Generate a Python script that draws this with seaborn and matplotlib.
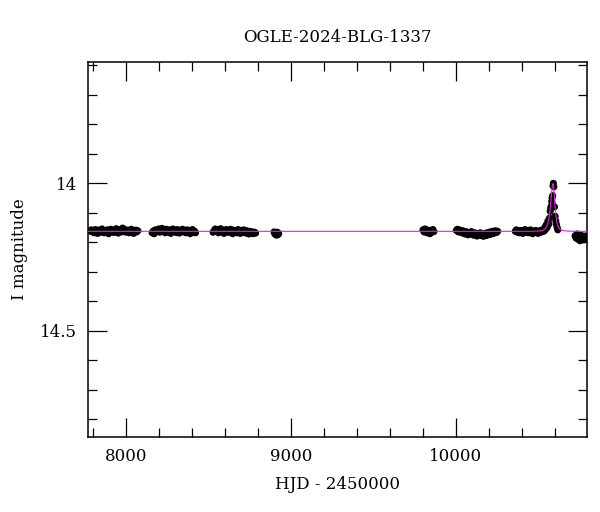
import numpy as np
import pandas as pd
import matplotlib
matplotlib.use("Agg")
import matplotlib.pyplot as plt
from matplotlib.ticker import MultipleLocator
import seaborn as sns

# ------------------------------------------
# Datos (leidos de la curva de luz)
# ------------------------------------------
hjd_s1 = [7782, 7788, 7795, 7801, 7808, 7814, 7821, 7828, 7834, 7841, 7847, 7854, 7861, 7867,
          7874, 7880, 7887, 7894, 7900, 7907, 7913, 7920, 7927, 7933, 7940, 7946, 7953, 7960,
          7966, 7973, 7979, 7986, 7993, 7999, 8006, 8012, 8019, 8026, 8032, 8039, 8045, 8052,
          8059, 8065, 8071]
mag_s1 = [14.162, 14.158, 14.165, 14.160, 14.168, 14.157, 14.163, 14.170, 14.159, 14.161, 14.166,
          14.155, 14.162, 14.168, 14.160, 14.164, 14.158, 14.171, 14.161, 14.156, 14.165, 14.160,
          14.167, 14.162, 14.154, 14.163, 14.169, 14.158, 14.161, 14.165, 14.152, 14.160, 14.157,
          14.166, 14.162, 14.159, 14.168, 14.163, 14.156, 14.161, 14.170, 14.164, 14.159, 14.165,
          14.161]

hjd_s2 = [8158, 8165, 8171, 8178, 8185, 8191, 8198, 8205, 8211, 8218, 8224, 8231, 8238, 8244,
          8251, 8257, 8264, 8271, 8277, 8284, 8290, 8297, 8304, 8310, 8317, 8323, 8330, 8337,
          8343, 8350, 8356, 8363, 8370, 8376, 8383, 8389, 8396, 8403, 8409, 8416, 8421]
mag_s2 = [14.168, 14.162, 14.171, 14.158, 14.164, 14.160, 14.155, 14.166, 14.161, 14.153, 14.163,
          14.159, 14.168, 14.156, 14.162, 14.165, 14.158, 14.170, 14.161, 14.155, 14.164, 14.160,
          14.167, 14.157, 14.162, 14.169, 14.159, 14.163, 14.156, 14.165, 14.161, 14.168, 14.158,
          14.164, 14.160, 14.171, 14.162, 14.157, 14.166, 14.163, 14.168]

hjd_s3 = [8528, 8535, 8541, 8548, 8554, 8561, 8568, 8574, 8581, 8587, 8594, 8601, 8607, 8614,
          8620, 8627, 8634, 8640, 8647, 8653, 8660, 8667, 8673, 8680, 8686, 8693, 8700, 8706,
          8713, 8719, 8726, 8733, 8739, 8746, 8752, 8759, 8766, 8772, 8780, 8786]
mag_s3 = [14.166, 14.160, 14.155, 14.163, 14.158, 14.168, 14.161, 14.154, 14.164, 14.159, 14.170,
          14.162, 14.157, 14.165, 14.160, 14.167, 14.156, 14.163, 14.171, 14.159, 14.164, 14.161,
          14.168, 14.157, 14.163, 14.170, 14.160, 14.166, 14.158, 14.164, 14.169, 14.161, 14.166,
          14.172, 14.163, 14.168, 14.165, 14.171, 14.166, 14.169]

hjd_s4 = [8898, 8903, 8908, 8912, 8917, 8922, 8926]
mag_s4 = [14.165, 14.172, 14.168, 14.176, 14.166, 14.174, 14.170]

hjd_s5 = [9802, 9808, 9814, 9820, 9826, 9832, 9838, 9844, 9850, 9856, 9862, 9868]
mag_s5 = [14.158, 14.165, 14.155, 14.162, 14.168, 14.159, 14.163, 14.171, 14.160, 14.166, 14.157,
          14.164]

hjd_s6 = [10004, 10010, 10017, 10023, 10030, 10037, 10043, 10050, 10056, 10063, 10070, 10076,
          10083, 10089, 10096, 10103, 10109, 10116, 10122, 10129, 10136, 10142, 10149, 10155,
          10162, 10169, 10175, 10182, 10188, 10195, 10202, 10208, 10215, 10221, 10228, 10235,
          10241, 10248, 10255]
mag_s6 = [14.160, 14.156, 14.165, 14.158, 14.163, 14.168, 14.161, 14.166, 14.172, 14.164, 14.169,
          14.175, 14.167, 14.172, 14.164, 14.170, 14.176, 14.168, 14.173, 14.179, 14.171, 14.175,
          14.168, 14.177, 14.172, 14.180, 14.174, 14.169, 14.177, 14.172, 14.166, 14.174, 14.169,
          14.163, 14.171, 14.166, 14.161, 14.167, 14.163]

hjd_s7 = [10362, 10368, 10375, 10382, 10388, 10395, 10401, 10408, 10415, 10421, 10428, 10434,
          10441, 10448, 10454, 10461, 10467, 10474, 10481, 10487, 10494, 10500, 10507, 10513,
          10520, 10526, 10532, 10538, 10543, 10547, 10551, 10555, 10560, 10566, 10570, 10574,
          10577, 10580, 10583, 10585, 10587, 10589, 10591, 10593, 10596, 10600, 10604, 10608,
          10612, 10616, 10620]
mag_s7 = [14.163, 14.158, 14.166, 14.161, 14.168, 14.160, 14.164, 14.170, 14.162, 14.157, 14.166,
          14.161, 14.168, 14.163, 14.158, 14.165, 14.171, 14.162, 14.167, 14.160, 14.165, 14.170,
          14.162, 14.167, 14.159, 14.164, 14.160, 14.162, 14.148, 14.155, 14.140, 14.150, 14.128,
          14.138, 14.118, 14.095, 14.085, 14.078, 14.062, 14.050, 14.072, 14.042, 14.008, 14.000,
          14.012, 14.080, 14.112, 14.128, 14.140, 14.150, 14.158]

hjd_s8 = [10725, 10731, 10737, 10743, 10749, 10755, 10761, 10767, 10773, 10779, 10785, 10791]
mag_s8 = [14.178, 14.186, 14.172, 14.190, 14.181, 14.195, 14.176, 14.188, 14.182, 14.192, 14.179,
          14.185]

# modelo (curva de microlente)
model_hjd = [7770, 8500, 9500, 10300, 10450, 10500, 10520, 10535, 10545, 10555, 10562, 10568,
             10573, 10578, 10582, 10585, 10588, 10591, 10594, 10597, 10601, 10605, 10610,
             10616, 10624, 10635, 10650, 10675, 10720, 10800]
model_mag = [14.163, 14.163, 14.163, 14.163, 14.163, 14.162, 14.161, 14.158, 14.153, 14.143,
             14.130, 14.112, 14.090, 14.062, 14.036, 14.016, 14.003, 14.001, 14.010, 14.028,
             14.058, 14.088, 14.116, 14.137, 14.150, 14.157, 14.160, 14.162, 14.163, 14.163]

hjd_all = hjd_s1 + hjd_s2 + hjd_s3 + hjd_s4 + hjd_s5 + hjd_s6 + hjd_s7 + hjd_s8
mag_all = mag_s1 + mag_s2 + mag_s3 + mag_s4 + mag_s5 + mag_s6 + mag_s7 + mag_s8
df_obs = pd.DataFrame({"hjd": hjd_all, "mag": mag_all})
df_model = pd.DataFrame({"hjd": model_hjd, "mag": model_mag})

# ------------------------------------------
# Grafico
# ------------------------------------------
sns.set_style("ticks")
plt.rcParams["font.family"] = ["DejaVu Serif"]
plt.rcParams["text.color"] = "black"
plt.rcParams["axes.labelcolor"] = "black"

fig = plt.figure(figsize=(6, 5.12), dpi=100)
ax = fig.add_axes([0.147, 0.147, 0.831, 0.731])

sns.scatterplot(x="hjd", y="mag", data=df_obs, color="black", s=26, edgecolor="none",
                ax=ax, zorder=2, legend=False)
sns.lineplot(x="hjd", y="mag", data=df_model, color="#e020e0", linewidth=0.8,
             ax=ax, zorder=3, legend=False, sort=True)

ax.set_xlim(7770, 10796)
ax.set_ylim(14.86, 13.59)

ax.xaxis.set_major_locator(MultipleLocator(1000))
ax.xaxis.set_minor_locator(MultipleLocator(200))
ax.yaxis.set_minor_locator(MultipleLocator(0.1))
ax.set_yticks([14.0, 14.5])
ax.set_yticklabels(["14", "14.5"])

ax.tick_params(which="both", direction="in", top=True, right=True, colors="black",
               labelcolor="black", labelsize=12, pad=8)
ax.tick_params(which="major", length=13.5, width=0.9)
ax.tick_params(which="minor", length=6.7, width=0.9)
for sp in ax.spines.values():
    sp.set_linewidth(1.1)
    sp.set_color("black")

ax.set_xlabel("HJD - 2450000", fontsize=12, labelpad=8, color="black")
ax.set_ylabel("I magnitude", fontsize=12, labelpad=9, color="black")
ax.set_title("OGLE-2024-BLG-1337", fontsize=12, pad=15, color="black")

fig.savefig("out.png", dpi=100, facecolor="white")
plt.close(fig)
